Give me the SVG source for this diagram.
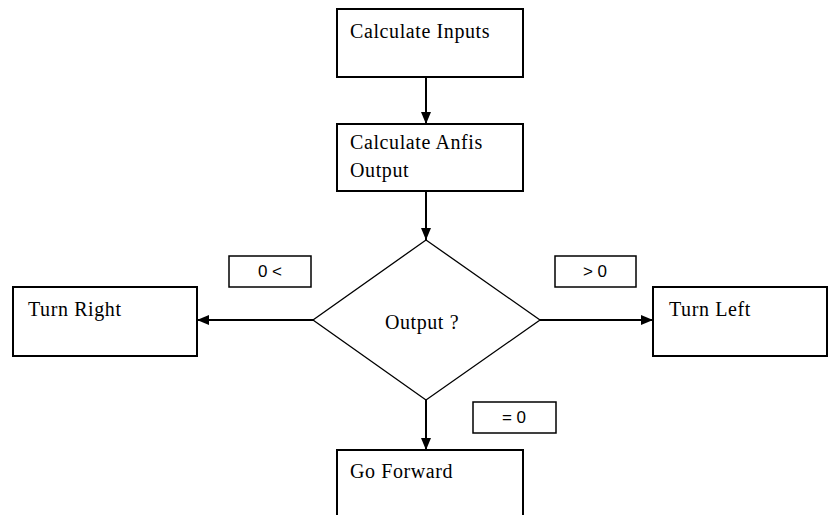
<svg xmlns="http://www.w3.org/2000/svg" width="828" height="515" viewBox="0 0 828 515">
  <style>
    .box { fill: #fff; stroke: #000; stroke-width: 2; }
    .lbl { fill: #fff; stroke: #000; stroke-width: 1.5; }
    .dia { fill: #fff; stroke: #000; stroke-width: 1.3; }
    .t { font-family: "Liberation Serif", "Times New Roman", serif; font-size: 20px; letter-spacing: 0.6px; fill: #000; }
    .s { font-family: "Liberation Sans", Arial, sans-serif; font-size: 17px; fill: #000; text-anchor: middle; }
    .edge { stroke: #000; stroke-width: 2; fill: none; marker-end: url(#arrow); }
  </style>
  <defs>
    <marker id="arrow" viewBox="0 0 12 10" refX="12" refY="5" markerWidth="12" markerHeight="10" markerUnits="userSpaceOnUse" orient="auto">
      <path d="M0,0 L12,5 L0,10 Z" fill="#000"/>
    </marker>
  </defs>
  <rect width="828" height="515" fill="#fff"/>

  <g id="connectors">
    <line class="edge" x1="426" y1="77" x2="426" y2="124"/>
    <line class="edge" x1="426" y1="191" x2="426" y2="240"/>
    <line class="edge" x1="313" y1="320" x2="197" y2="320"/>
    <line class="edge" x1="540" y1="320" x2="653" y2="320"/>
    <line class="edge" x1="426" y1="400" x2="426" y2="450"/>
  </g>

  <g id="calc-inputs">
    <rect class="box" x="337" y="9" width="186" height="68"/>
    <text class="t" x="350" y="38">Calculate Inputs</text>
  </g>

  <g id="calc-anfis">
    <rect class="box" x="337" y="124" width="186" height="67"/>
    <text class="t" x="350" y="149">Calculate Anfis</text>
    <text class="t" x="350" y="177">Output</text>
  </g>

  <g id="decision">
    <polygon class="dia" points="426,240 540,320 426,400 313,320"/>
    <text class="t" x="422" y="329" text-anchor="middle">Output ?</text>
  </g>

  <g id="turn-right">
    <rect class="box" x="13" y="287" width="184" height="69"/>
    <text class="t" x="28" y="316">Turn Right</text>
  </g>

  <g id="turn-left">
    <rect class="box" x="653" y="287" width="174" height="69"/>
    <text class="t" x="669" y="316">Turn Left</text>
  </g>

  <g id="go-forward">
    <rect class="box" x="337" y="450" width="186" height="70"/>
    <text class="t" x="350" y="478">Go Forward</text>
  </g>

  <g id="label-less">
    <rect class="lbl" x="229" y="256" width="82" height="31"/>
    <text class="s" x="270" y="277">0 &lt;</text>
  </g>

  <g id="label-greater">
    <rect class="lbl" x="555" y="256" width="81" height="31"/>
    <text class="s" x="595" y="277">&gt; 0</text>
  </g>

  <g id="label-equal">
    <rect class="lbl" x="473" y="402" width="83" height="31"/>
    <text class="s" x="514" y="423">= 0</text>
  </g>
</svg>
